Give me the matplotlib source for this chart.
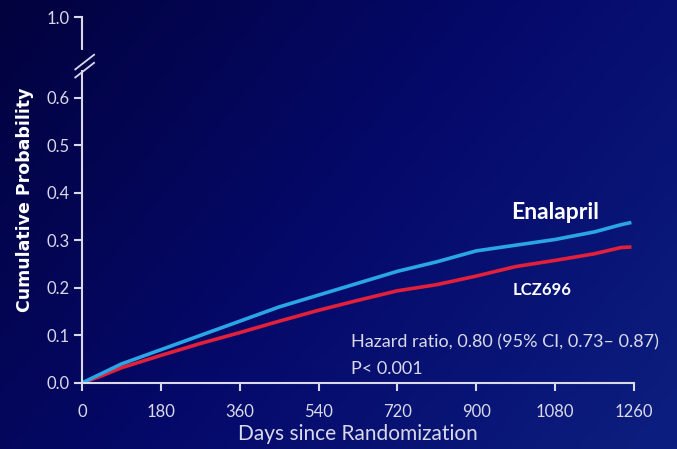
import numpy as np
import matplotlib.pyplot as plt
from matplotlib.colors import LinearSegmentedColormap

plt.rcParams['font.family'] = ['Lato', 'DejaVu Sans']

# data
days = [0, 45, 90, 135, 180, 270, 360, 450, 540, 630, 720, 810, 900, 990, 1080, 1170, 1230, 1250]
enalapril = [0.0, 0.02, 0.04, 0.055, 0.07, 0.10, 0.13, 0.16, 0.185, 0.21, 0.235, 0.255, 0.278, 0.29, 0.302, 0.318, 0.333, 0.337]
lcz696 = [0.0, 0.015, 0.032, 0.045, 0.058, 0.083, 0.106, 0.13, 0.153, 0.174, 0.194, 0.207, 0.225, 0.245, 0.258, 0.272, 0.285, 0.286]
xticks = [0, 180, 360, 540, 720, 900, 1080, 1260]
yticks = [0.0, 0.1, 0.2, 0.3, 0.4, 0.5, 0.6]
top_pos = 0.77  # where 1.0 is drawn above the axis break

fig = plt.figure(figsize=(6.77, 4.49), dpi=100)

# background gradient
bg = fig.add_axes([0, 0, 1, 1])
xx, yy = np.meshgrid(np.linspace(0, 1, 200), np.linspace(0, 1, 200))
grad = 0.65 * xx + 0.35 * yy
cmap = LinearSegmentedColormap.from_list("bg", ["#02023e", "#05096a", "#0c1f80"])
bg.imshow(grad, cmap=cmap, aspect="auto", extent=[0, 1, 0, 1], origin="upper")
bg.axis("off")

ax = fig.add_axes([0.121, 0.147, 0.8155, 0.815])
ax.patch.set_alpha(0)
fg = "#d9d9ea"

ax.plot(days, lcz696, color="#e3203a", lw=2.6)
ax.plot(days, enalapril, color="#2aa6e6", lw=2.6)

ax.set_xlim(0, 1260)
ax.set_ylim(0, top_pos)
ax.set_xticks(xticks)
ax.set_xticklabels([str(t) for t in xticks])
ax.set_yticks(yticks + [top_pos])
ax.set_yticklabels(["%.1f" % t for t in yticks] + ["1.0"])

for s in ["top", "right"]:
    ax.spines[s].set_visible(False)
for s in ["left", "bottom"]:
    ax.spines[s].set_color(fg)
    ax.spines[s].set_linewidth(1.5)
ax.tick_params(colors=fg, labelsize=12, length=6, width=1.5)
ax.tick_params(axis="y", pad=3)
ax.tick_params(axis="x", pad=9)

# axis break marks
ax.plot([0, 0], [0.86, 0.905], transform=ax.transAxes, color="#03043f", lw=3, clip_on=False, zorder=3)
for dy in [0, 0.022]:
    ax.plot([-0.012, 0.022], [0.855 + dy - 0.02, 0.855 + dy + 0.02],
            transform=ax.transAxes, color=fg, lw=1.3, clip_on=False, zorder=4)

ax.set_ylabel("Cumulative Probability", color="white", fontsize=12.5, fontweight="bold",
              family="DejaVu Sans", labelpad=9)
ax.set_xlabel("Days since Randomization", color=fg, fontsize=15, labelpad=3)

ax.text(1080, 0.358, "Enalapril", color="white", fontsize=16.5, fontweight="bold", ha="center", va="center")
ax.text(1050, 0.196, "LCZ696", color="white", fontsize=12, fontweight="bold", ha="center", va="center")
ax.text(614, 0.086, "Hazard ratio, 0.80 (95% CI, 0.73– 0.87)", color=fg, fontsize=13, va="center")
ax.text(614, 0.029, "P< 0.001", color=fg, fontsize=13, va="center")

fig.savefig("out.png", dpi=100)
